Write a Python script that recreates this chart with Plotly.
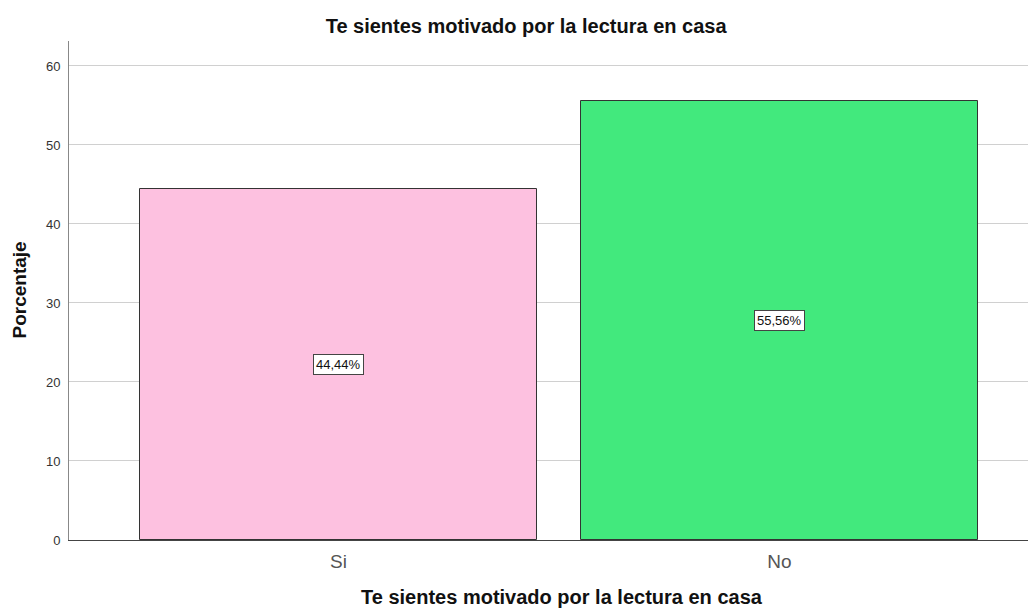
import plotly.graph_objects as go

categories = ["Si", "No"]
percentages = [44.44, 55.56]
labels = ["44,44%", "55,56%"]
colors = ["#FDC1E0", "#42E97D"]
y_ticks = [0, 10, 20, 30, 40, 50, 60]
title_text = "Te sientes motivado por la lectura en casa"
x_title = "Te sientes motivado por la lectura en casa"
y_title = "Porcentaje"

xs = list(range(len(categories)))
FONT = "Arial, Liberation Sans, sans-serif"

fig = go.Figure()
fig.add_trace(go.Bar(
    x=xs, y=percentages, width=0.9,
    marker=dict(color=colors, line=dict(color="#333333", width=1)),
    hoverinfo="skip",
))

for x, v, t in zip(xs, percentages, labels):
    fig.add_annotation(
        x=x, y=v / 2, text=t, showarrow=False,
        font=dict(family=FONT, size=13, color="#111111"),
        bgcolor="white", bordercolor="#444444", borderwidth=1, borderpad=2,
    )

# axis titles as annotations for precise placement
fig.add_annotation(
    xref="paper", yref="paper", x=0.51, y=0, yanchor="middle", yshift=-57,
    text="<b>" + x_title + "</b>", showarrow=False,
    font=dict(family=FONT, size=20, color="#111111"),
)
fig.add_annotation(
    xref="paper", yref="paper", x=-0.0517, y=0.5, xanchor="center", yanchor="middle",
    text="<b>" + y_title + "</b>", showarrow=False, textangle=-90,
    font=dict(family=FONT, size=19, color="#111111"),
)

# page has an 8px body margin: figure drawn at (8,8)
fig.update_layout(
    width=1028, height=603,
    margin=dict(l=61, r=0, t=33, b=71),
    paper_bgcolor="white", plot_bgcolor="white",
    showlegend=False,
    font=dict(family=FONT),
    title=dict(text="<b>" + title_text + "</b>",
               x=0.504, xanchor="center", y=1 - 18 / 603, yanchor="middle",
               font=dict(size=20, color="#111111")),
    bargap=0,
)

fig.update_xaxes(
    range=[-0.611, 1.5816],
    tickvals=xs, ticktext=categories,
    tickfont=dict(size=19, color="#555555"),
    showgrid=False, zeroline=False,
    showline=True, linecolor="#444444", linewidth=1,
    ticks="outside", ticklen=4, tickcolor="rgba(0,0,0,0)",
)
fig.update_yaxes(
    range=[0, 63.16],
    tickvals=y_ticks,
    tickfont=dict(size=13, color="#333333"),
    showgrid=True, gridcolor="#D0D0D0", gridwidth=1,
    zeroline=False,
    showline=True, linecolor="#888888", linewidth=1,
    ticks="outside", ticklen=5, tickcolor="rgba(0,0,0,0)",
)

fig.write_html("out.html")
